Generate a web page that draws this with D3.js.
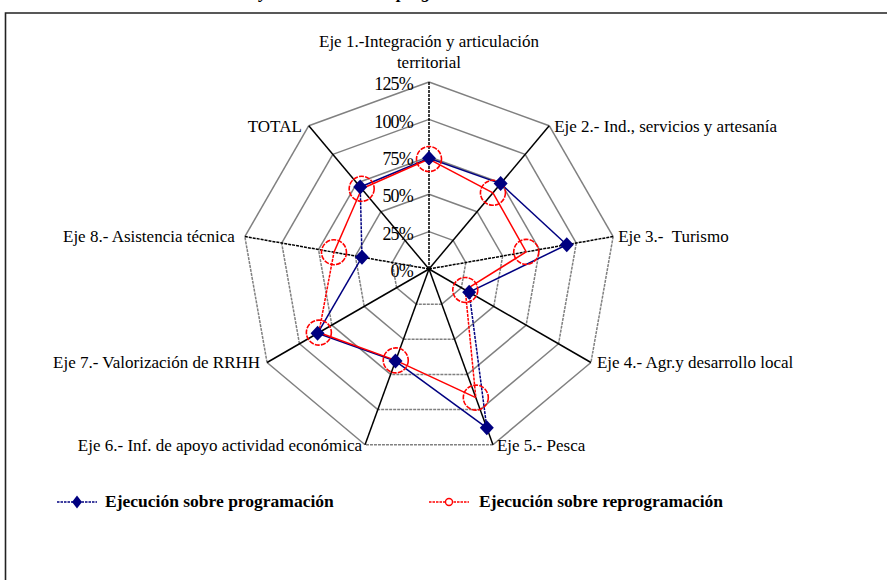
<!DOCTYPE html>
<html>
<head>
<meta charset="utf-8">
<script src="https://cdn.jsdelivr.net/npm/d3@7"></script>
<style>
  html, body { margin: 0; padding: 0; background: #fff; }
  svg { display: block; }
  svg text { font-family: "Liberation Serif", "Times New Roman", "DejaVu Serif", serif; }
</style>
</head>
<body>
<svg id="chart" width="887" height="580"></svg>
<script>
// Axes of the radar (clockwise from the top)
const categories = [
  ["Eje 1.-Integración y articulación", "territorial"],
  ["Eje 2.- Ind., servicios y artesanía"],
  ["Eje 3.-  Turismo"],
  ["Eje 4.- Agr.y desarrollo local"],
  ["Eje 5.- Pesca"],
  ["Eje 6.- Inf. de apoyo actividad económica"],
  ["Eje 7.- Valorización de RRHH"],
  ["Eje 8.- Asistencia técnica"],
  ["TOTAL"]
];

// Execution ratios (1 = 100%)
const programacion   = [0.74, 0.745, 0.935, 0.31, 1.13, 0.655, 0.86, 0.455, 0.715];
const reprogramacion = [0.735, 0.665, 0.66, 0.28, 0.915, 0.65, 0.85, 0.645, 0.70];

const seriesNames = ["Ejecución sobre programación", "Ejecución sobre reprogramación"];

const tickValues = [0, 0.25, 0.5, 0.75, 1, 1.25];
const tickLabels = ["0%", "25%", "50%", "75%", "100%", "125%"];

const svg = d3.select("#chart");
const cx = 429, cy = 269;

const r = d3.scaleLinear().domain([0, 1.25]).range([0, 187]);
const angle = d3.scaleLinear().domain([0, categories.length]).range([0, 2 * Math.PI]);

const pt = (i, v) => [cx + r(v) * Math.sin(angle(i)), cy - r(v) * Math.cos(angle(i))];

// segments close to horizontal / vertical get the fine dotted look
function dashFor(a, b) {
  const dx = b[0] - a[0], dy = b[1] - a[1];
  const deg = Math.abs(Math.atan2(dy, dx) * 180 / Math.PI) % 90;
  return (deg < 12 || deg > 78) ? "3,1" : null;
}

// frame
svg.append("path")
  .attr("d", "M5.5,600 L5.5,13 L900,13")
  .attr("fill", "none").attr("stroke", "#222").attr("stroke-width", 1.6);

// title, running off the top edge
const title = svg.append("text")
  .attr("y", -2)
  .attr("font-size", 18)
  .attr("font-style", "italic")
  .attr("font-weight", "bold");
title.append("tspan").attr("x", 268).attr("text-anchor", "end").text("Resultados del total y");
title.append("tspan").attr("x", 397).text("programación");

const n = categories.length;

// grid rings
const gGrid = svg.append("g");
tickValues.slice(1).forEach(v => {
  for (let i = 0; i < n; i++) {
    const a = pt(i, v), b = pt((i + 1) % n, v);
    gGrid.append("line")
      .attr("x1", a[0]).attr("y1", a[1]).attr("x2", b[0]).attr("y2", b[1])
      .attr("stroke", "#808080").attr("stroke-width", 1.5)
      .attr("stroke-dasharray", dashFor(a, b));
  }
});

// spokes
for (let i = 0; i < n; i++) {
  const a = pt(i, 0), b = pt(i, 1.25);
  gGrid.append("line")
    .attr("x1", a[0]).attr("y1", a[1]).attr("x2", b[0]).attr("y2", b[1])
    .attr("stroke", "#000").attr("stroke-width", 1.5)
    .attr("stroke-dasharray", dashFor(a, b));
}

// tick labels along the first axis
svg.append("g").selectAll("text")
  .data(tickValues)
  .join("text")
  .attr("x", 413)
  .attr("y", d => cy - r(d) + 4)
  .attr("dominant-baseline", "middle")
  .attr("text-anchor", "end")
  .attr("font-size", 18)
  .attr("letter-spacing", -0.8)
  .text((d, i) => tickLabels[i]);

// axis labels
const labelDx = [0, 5, 5, 6, 4, -3, -7, -10, -7];
const gLab = svg.append("g").attr("font-size", 17).attr("fill", "#000");
categories.forEach((lines, i) => {
  const [vx, vy] = pt(i, 1.25);
  if (i === 0) {
    const t = gLab.append("text").attr("text-anchor", "middle");
    t.append("tspan").attr("x", vx).attr("y", 47).text(lines[0]);
    t.append("tspan").attr("x", vx).attr("y", 68).text(lines[1]);
    return;
  }
  const right = Math.sin(angle(i)) > 0;
  gLab.append("text")
    .attr("x", vx + labelDx[i])
    .attr("y", vy + 2)
    .attr("dominant-baseline", "middle")
    .attr("text-anchor", right ? "start" : "end")
    .style("white-space", "pre")
    .text(lines[0]);
});

// series lines
function drawLines(values, color) {
  const g = svg.append("g");
  for (let i = 0; i < n; i++) {
    const a = pt(i, values[i]), b = pt((i + 1) % n, values[(i + 1) % n]);
    g.append("line")
      .attr("x1", a[0]).attr("y1", a[1]).attr("x2", b[0]).attr("y2", b[1])
      .attr("stroke", color).attr("stroke-width", 1.5)
      .attr("stroke-dasharray", dashFor(a, b));
  }
}
drawLines(programacion, "#000080");
drawLines(reprogramacion, "#ff0000");

// markers
const diamond = (x, y, w, h) => `M${x},${y - h}L${x + w},${y}L${x},${y + h}L${x - w},${y}Z`;

svg.append("g").selectAll("circle")
  .data(reprogramacion)
  .join("circle")
  .attr("cx", (d, i) => pt(i, d)[0])
  .attr("cy", (d, i) => pt(i, d)[1])
  .attr("r", 12.5)
  .attr("fill", "none")
  .attr("stroke", "#ff0000")
  .attr("stroke-width", 1.6)
  .attr("stroke-dasharray", "5,1.2");

svg.append("g").selectAll("path")
  .data(programacion)
  .join("path")
  .attr("d", (d, i) => { const p = pt(i, d); return diamond(p[0], p[1], 7, 7.5); })
  .attr("fill", "#000080");

// legend
const legend = [
  { x0: 57, x1: 97, tx: 105, color: "#000080", kind: "diamond", name: seriesNames[0] },
  { x0: 429, x1: 469, tx: 479, color: "#ff0000", kind: "circle", name: seriesNames[1] }
];
const ly = 502;
const gLeg = svg.append("g");
legend.forEach(l => {
  gLeg.append("line")
    .attr("x1", l.x0).attr("x2", l.x1).attr("y1", ly).attr("y2", ly)
    .attr("stroke", l.color).attr("stroke-width", 1.6).attr("stroke-dasharray", "2.5,1");
  const mx = (l.x0 + l.x1) / 2;
  if (l.kind === "diamond") {
    gLeg.append("path").attr("d", diamond(mx, ly, 5, 6.5)).attr("fill", l.color);
  } else {
    gLeg.append("circle").attr("cx", mx).attr("cy", ly).attr("r", 3.5)
      .attr("fill", "#fff").attr("stroke", l.color).attr("stroke-width", 1.4);
  }
  gLeg.append("text")
    .attr("x", l.tx).attr("y", ly + 1)
    .attr("dominant-baseline", "middle")
    .attr("font-size", 17.5).attr("font-weight", "bold")
    .text(l.name);
});
</script>
</body>
</html>
